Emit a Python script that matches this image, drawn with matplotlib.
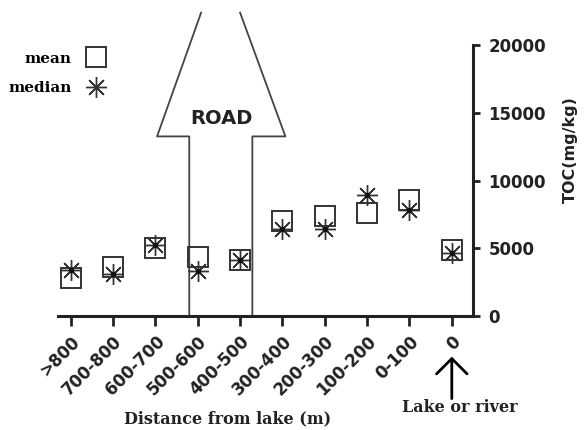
"""TOC versus distance from lake, with road crossing."""

import matplotlib

matplotlib.use("Agg")
import matplotlib.pyplot as plt
import matplotlib.transforms as mtransforms
from matplotlib.lines import Line2D

categories = [">800", "700-800", "600-700", "500-600", "400-500",
              "300-400", "200-300", "100-200", "0-100", "0"]
mean_toc = [2800, 3650, 5000, 4350, 4150, 7000, 7350, 7600, 8550, 4900]
median_toc = [3400, 3100, 5250, 3350, 4150, 6400, 6400, 8950, 7850, 4650]
y_ticks = [0, 5000, 10000, 15000, 20000]

# road outline anchors (category index, TOC value)
road_left = [(3.08, 22400), (2.04, 13260), (2.80, 13260), (2.80, 0)]
road_right = [(4.00, 22400), (5.07, 13260), (4.29, 13260), (4.29, 0)]

SANS = "DejaVu Sans"
SERIF = "DejaVu Serif"
INK = "#222222"
EDGE = "#333333"


def main() -> None:
    fig = plt.figure(figsize=(5.84, 4.30), dpi=100)
    ax = fig.add_axes([0.0993, 0.2651, 0.7106, 0.630])

    x = list(range(len(categories)))
    ax.plot(x, mean_toc, linestyle="none", marker="s", markersize=14.5,
            markerfacecolor="none", markeredgecolor=EDGE,
            markeredgewidth=1.4, zorder=3)
    ax.plot(x, median_toc, linestyle="none", marker=(8, 2, 0), markersize=15,
            markeredgecolor=EDGE, markeredgewidth=1.0, zorder=4)
    ax.plot(x, median_toc, linestyle="none", marker="o", markersize=3,
            color="#111111", zorder=5)

    for outline in (road_left, road_right):
        ax.plot([p[0] for p in outline], [p[1] for p in outline],
                color="#444444", linewidth=1.3, clip_on=False, zorder=2)
    ax.text(3.55, 14600, "ROAD", ha="center", va="center", fontsize=14,
            fontweight="bold", family=SANS, color=INK)

    ax.set_xlim(-0.3, 9.5)
    ax.set_ylim(0, 20000)
    ax.set_xticks(x)
    ax.set_xticklabels(categories, rotation=45, ha="right",
                       rotation_mode="anchor", fontsize=12,
                       fontweight="bold", family=SANS, color=INK)
    shift = mtransforms.ScaledTranslation(-4 / 100, -1 / 100,
                                          fig.dpi_scale_trans)
    for label in ax.get_xticklabels():
        label.set_transform(label.get_transform() + shift)

    ax.yaxis.tick_right()
    ax.yaxis.set_label_position("right")
    ax.set_yticks(y_ticks)
    ax.set_yticklabels([str(v) for v in y_ticks], fontsize=12,
                       fontweight="bold", family=SANS, color=INK)
    ax.set_ylabel("TOC(mg/kg)", fontsize=11.5, fontweight="bold",
                  family=SANS, color=INK)
    ax.yaxis.set_label_coords(1.217, 0.613)

    for side in ("left", "top"):
        ax.spines[side].set_visible(False)
    for side in ("bottom", "right"):
        ax.spines[side].set_linewidth(2.2)
        ax.spines[side].set_color(INK)
    ax.tick_params(axis="x", direction="out", length=7, width=2.0,
                   color=INK, pad=5)
    ax.tick_params(axis="y", direction="out", length=5, width=2.0,
                   color=INK, pad=6)

    fig.text(0.389, 0.015, "Distance from lake (m)", ha="center",
             va="baseline", fontsize=11.5, fontweight="bold", family=SERIF,
             color=INK)
    fig.text(0.788, 0.042, "Lake or river", ha="center", va="baseline",
             fontsize=11.5, fontweight="bold", family=SERIF, color=INK)
    ax.annotate("", xy=(9, -3000), xytext=(9, -6100), annotation_clip=False,
                arrowprops=dict(arrowstyle="->,head_length=1.1,head_width=1.1",
                                color="black", linewidth=2.0,
                                shrinkA=0, shrinkB=0))

    handles = [
        Line2D([], [], linestyle="none", marker="s", markersize=14.5,
               markerfacecolor="none", markeredgecolor=EDGE,
               markeredgewidth=1.4),
        Line2D([], [], linestyle="none", marker=(8, 2, 0), markersize=15,
               markeredgecolor=EDGE, markeredgewidth=1.0),
    ]
    ax.legend(handles, ["mean", "median"], loc="upper right",
              bbox_to_anchor=(113 / 584, 1 - 44 / 430),
              bbox_transform=fig.transFigure, borderpad=0,
              markerfirst=False, frameon=False, handlelength=1.2,
              handletextpad=1.0, labelspacing=1.0,
              prop=dict(family=SERIF, weight="bold", size=11))

    fig.savefig("out.png", dpi=100)


if __name__ == "__main__":
    main()
